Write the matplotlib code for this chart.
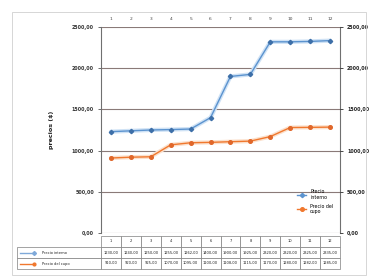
import matplotlib
matplotlib.use("Agg")
import matplotlib.pyplot as plt
from matplotlib.lines import Line2D

#====================================
# Donnees

meses = ["1", "2", "3", "4", "5", "6", "7", "8", "9", "10", "11", "12"]
serie_a = "Precio interno"
serie_b = "Precio del cupo"
valores_a = [1230, 1240, 1250, 1255, 1262, 1400, 1900, 1925, 2320, 2320, 2325, 2335]
valores_b = [910, 920, 925, 1070, 1095, 1100, 1108, 1115, 1170, 1280, 1282, 1285]
ticks_y = [0, 500, 1000, 1500, 2000, 2500]
etiqueta_y = "precios ($)"

azul = "#5B93CF"
naranja = "#F0782E"

def fmt(v):
    return ("%.2f" % v).replace(".", ",")

#====================================
# Figura

fig = plt.figure(figsize=(3.74, 2.79), dpi=100)
fig.patch.set_facecolor("white")
fig.add_artist(plt.Rectangle((12/374, 4/279), 354/374, 263/279, transform=fig.transFigure,
                             fill=False, edgecolor="#D0D0D0", linewidth=0.6))

ax = fig.add_axes([101/374, 1-233/279, 239/374, 206/279])
x = list(range(len(meses)))

# halo clair comme dans Excel
ax.plot(x, valores_a, color="#CFE2F5", linewidth=3.0, zorder=2, solid_capstyle="round")
ax.plot(x, valores_b, color="#FBE0CC", linewidth=3.0, zorder=2, solid_capstyle="round")
ax.plot(x, valores_a, color=azul, linewidth=1.0, marker="D", markersize=2.2,
        markerfacecolor="#3D6FA8", markeredgecolor="#3D6FA8", label=serie_a, zorder=3)
ax.plot(x, valores_b, color=naranja, linewidth=1.0, marker="o", markersize=2.6,
        markerfacecolor="#E0672A", markeredgecolor="#E0672A", label=serie_b, zorder=3)

ax.set_xlim(-0.5, len(meses) - 0.5)
ax.set_ylim(0, 2500)
ax.set_yticks(ticks_y)
ax.set_yticklabels([fmt(v) for v in ticks_y], fontsize=3.4, color="#222222", fontweight="bold")
ax.yaxis.grid(True, color="#8A7A78", linewidth=0.8)
ax.set_axisbelow(True)
ax.tick_params(axis="y", length=2, width=0.5, pad=3, colors="#333333")

ax.xaxis.tick_top()
ax.set_xticks(x)
ax.set_xticklabels(meses, fontsize=3.2, color="#444444")
ax.tick_params(axis="x", length=0, pad=4)

for s in ["top", "bottom"]:
    ax.spines[s].set_visible(False)
ax.spines["left"].set_color("#707070")
ax.spines["right"].set_color("#707070")
ax.spines["left"].set_linewidth(0.8)
ax.spines["right"].set_linewidth(0.8)

ax.set_ylabel(etiqueta_y, fontsize=4.6, fontweight="bold", labelpad=13, color="#222222")

ax2 = ax.twinx()
ax2.set_ylim(0, 2500)
ax2.set_yticks(ticks_y)
ax2.set_yticklabels([fmt(v) for v in ticks_y], fontsize=3.4, color="#222222", fontweight="bold")
ax2.tick_params(axis="y", length=2, width=0.5, pad=3)
for s in ["top", "bottom", "left", "right"]:
    ax2.spines[s].set_visible(False)

leg = ax.legend(handles=[
    Line2D([], [], color=azul, marker="D", markersize=2.2, linewidth=1.0, label="Precio\ninterno"),
    Line2D([], [], color=naranja, marker="o", markersize=2.6, linewidth=1.0, label="Precio del\ncupo")],
    loc="lower right", bbox_to_anchor=(0.99, 0.07), fontsize=3.4, frameon=False,
    handlelength=2.0, labelspacing=0.8)

#====================================
# Tabla de datos

filas = [[""] + meses,
         [serie_a] + [fmt(v) for v in valores_a],
         [serie_b] + [fmt(v) for v in valores_b]]
ancho_izq = 84 / 239
ancho_col = 1.0 / len(meses)
tabla = ax.table(cellText=filas, colWidths=[ancho_izq] + [ancho_col] * len(meses),
                 cellLoc="center", bbox=[-ancho_izq, -36/206, 1 + ancho_izq, 33/206])
tabla.auto_set_font_size(False)
tabla.set_fontsize(2.6)
for (r, c), celda in tabla.get_celld().items():
    celda.set_edgecolor("#7F7F7F")
    celda.set_linewidth(0.5)
    celda.get_text().set_color("#222222")
    if r == 0 and c == 0:
        celda.visible_edges = ""
    if c == 0 and r > 0:
        celda.get_text().set_ha("left")
        celda.PAD = 0.3

# claves de leyenda en la tabla
for fila, col, mk in [(1, "#7FA9D9", "D"), (2, naranja, "o")]:
    yy = 1 - (236 + (fila + 0.5) * 11) / 279
    fig.add_artist(Line2D([20/374, 34/374], [yy, yy], color=col, linewidth=1.0,
                          marker=mk, markersize=2.0, markevery=[1],
                          transform=fig.transFigure))

fig.savefig("out.png", dpi=100, facecolor="white")
